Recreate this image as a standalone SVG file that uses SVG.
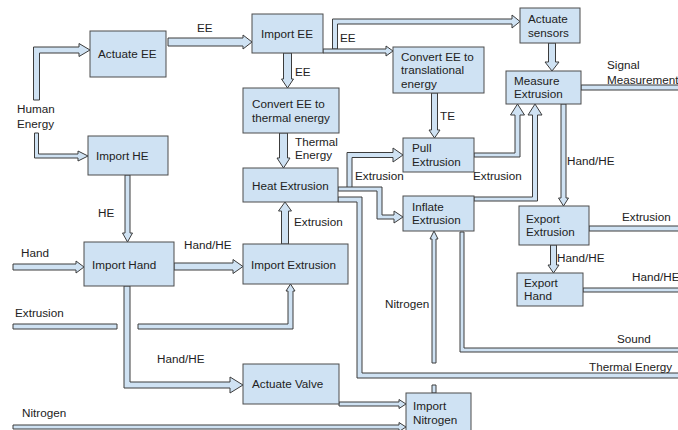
<svg xmlns="http://www.w3.org/2000/svg" width="678" height="430" viewBox="0 0 678 430">
<style>
.n{fill:#cfe2f3;stroke:#4d4d4d;stroke-width:1}
.c{fill:#cfe2f3;stroke:#3c3c3c;stroke-width:1;stroke-linejoin:miter}
text{font-family:"Liberation Sans",Arial,sans-serif;font-size:11.7px;fill:#222}
</style>
<rect width="678" height="430" fill="#fff"/>
<g id="connectors">
<path class="c" d="M33.5,100 V47 H79 V43.5 L90,50 L79,56.5 V53 H39.5 V100 Z"/>
<path class="c" d="M34.5,133 V158 H78 V161 L88,156 L78,151 V154 H38.5 V133 Z"/>
<path class="c" d="M168,38 H243 V35 L252,42 L243,49 V46 H168 Z"/>
<path class="c" d="M283.5,53 V79 H281.5 L287.5,88 L293.5,79 H291.5 V53 Z"/>
<path class="c" d="M332.5,49 V19 H512 V15 L520,21.5 L512,28 V24 H337.5 V49 Z"/>
<path class="c" d="M323,49 H386 V46 L393,51 L386,56 V53 H323 Z"/>
<path class="c" d="M548.5,43 V62 H545 L552,71 L559,62 H555.5 V43 Z"/>
<path class="c" d="M581,85 H682 V90 H581 Z"/>
<path class="c" d="M431.5,93 V130 H429 L434.5,138 L440,130 H437.5 V93 Z"/>
<path class="c" d="M279.5,133 V158 H277 L283.5,168 L290,158 H287.5 V133 Z"/>
<path class="c" d="M281.5,244 V211 H278.5 L285,202 L291.5,211 H288.5 V244 Z"/>
<path class="c" d="M347,189 V152.5 H393 V148 L403,155 L393,162 V157.5 H352 V189 Z"/>
<path class="c" d="M338,187 H382 V215 H394 V211 L403,217 L394,223 V219 H377 V191 H338 Z"/>
<path class="c" d="M338,197 H362 V373 H682 V378 H357 V202 H338 Z"/>
<path class="c" d="M474,153 H515 V115 H510.5 L517.5,104 L524.5,115 H520 V157 H474 Z"/>
<path class="c" d="M474,197 H532.5 V115 H528 L535,104 L542,115 H537.5 V201 H474 Z"/>
<path class="c" d="M561,104 V198 H558.5 L563.5,206 L568.5,198 H566 V104 Z"/>
<path class="c" d="M589,226 H682 V231 H589 Z"/>
<path class="c" d="M550.5,245 V265 H548 L553.5,273 L559,265 H556.5 V245 Z"/>
<path class="c" d="M583,288 H682 V292 H583 Z"/>
<path class="c" d="M460,232 V352 H682 V348 H464 V232 Z"/>
<path class="c" d="M125,175 V233 H122.5 L127.5,242 L132.5,233 H130 V175 Z"/>
<path class="c" d="M13,264 H76 V261 L84,267 L76,273 V270 H13 Z"/>
<path class="c" d="M174,263 H233 V259.5 L243,266.5 L233,273.5 V270 H174 Z"/>
<path class="c" d="M13,324 H117 V329 H13 Z"/>
<path class="c" d="M138,324 H288 V291 H286 L290.5,284 L295,291 H293 V329 H138 Z"/>
<path class="c" d="M124,286 V388 H230 V393 L243,385 L230,377 V382 H130 V286 Z"/>
<path class="c" d="M339,402 H399 V399.5 L406,404 L399,408.5 V406 H339 Z"/>
<path class="c" d="M13,425 H399 V422.5 L406,427 L399,431.5 V429 H13 Z"/>
<path class="c" d="M432,363 V239 H430 L434,231 L438,239 H436 V363 Z"/>
<path class="c" d="M432,385 H436 V393 H432 Z"/>
</g>
<g id="labels">
<text x="197" y="32">EE</text>
<text x="17" y="113">Human</text>
<text x="17" y="127.5">Energy</text>
<text x="295" y="76">EE</text>
<text x="340" y="42">EE</text>
<text x="607" y="69">Signal</text>
<text x="607" y="84">Measurement</text>
<text x="440" y="120">TE</text>
<text x="295" y="145.5">Thermal</text>
<text x="295" y="159">Energy</text>
<text x="355" y="180">Extrusion</text>
<text x="473" y="180">Extrusion</text>
<text x="294" y="226">Extrusion</text>
<text x="567" y="165">Hand/HE</text>
<text x="622" y="221">Extrusion</text>
<text x="557" y="262">Hand/HE</text>
<text x="632" y="281">Hand/HE</text>
<text x="617" y="343">Sound</text>
<text x="589" y="371">Thermal Energy</text>
<text x="98" y="217">HE</text>
<text x="21" y="257">Hand</text>
<text x="184" y="249">Hand/HE</text>
<text x="15" y="317">Extrusion</text>
<text x="157" y="363">Hand/HE</text>
<text x="22" y="417">Nitrogen</text>
<text x="385" y="308">Nitrogen</text>
</g>
<g id="actuate-ee"><rect class="n" x="90" y="31" width="76" height="46"/><text x="98" y="58">Actuate EE</text></g>
<g id="import-ee"><rect class="n" x="252" y="14" width="71" height="39"/><text x="261" y="38">Import EE</text></g>
<g id="convert-ee-thermal"><rect class="n" x="243" y="88" width="96" height="45"/><text x="252" y="108">Convert EE to</text><text x="252" y="121.5">thermal energy</text></g>
<g id="convert-ee-translational"><rect class="n" x="393" y="47" width="91" height="46"/><text x="401" y="60.5">Convert EE to</text><text x="401" y="74">translational</text><text x="401" y="87.5">energy</text></g>
<g id="actuate-sensors"><rect class="n" x="520" y="8" width="60" height="35"/><text x="528" y="23">Actuate</text><text x="528" y="36.5">sensors</text></g>
<g id="measure-extrusion"><rect class="n" x="506" y="71" width="75" height="33"/><text x="514" y="84.5">Measure</text><text x="514" y="98">Extrusion</text></g>
<g id="import-he"><rect class="n" x="88" y="136" width="80" height="39"/><text x="96" y="159.5">Import HE</text></g>
<g id="import-hand"><rect class="n" x="84" y="242" width="90" height="44"/><text x="92" y="268.5">Import Hand</text></g>
<g id="heat-extrusion"><rect class="n" x="243" y="168" width="95" height="34"/><text x="252" y="189.5">Heat Extrusion</text></g>
<g id="import-extrusion"><rect class="n" x="243" y="244" width="105" height="40"/><text x="251" y="268.5">Import Extrusion</text></g>
<g id="pull-extrusion"><rect class="n" x="403" y="138" width="71" height="34"/><text x="412" y="152">Pull</text><text x="412" y="166">Extrusion</text></g>
<g id="inflate-extrusion"><rect class="n" x="403" y="196" width="71" height="35"/><text x="412" y="210.5">Inflate</text><text x="412" y="224">Extrusion</text></g>
<g id="export-extrusion"><rect class="n" x="519" y="206" width="70" height="39"/><text x="526" y="222.5">Export</text><text x="526" y="236">Extrusion</text></g>
<g id="export-hand"><rect class="n" x="517" y="273" width="66" height="33"/><text x="524" y="286.5">Export</text><text x="524" y="300">Hand</text></g>
<g id="actuate-valve"><rect class="n" x="243" y="364" width="96" height="40"/><text x="252" y="388">Actuate Valve</text></g>
<g id="import-nitrogen"><rect class="n" x="406" y="393" width="65" height="45"/><text x="413" y="410">Import</text><text x="413" y="424">Nitrogen</text></g>
</svg>
